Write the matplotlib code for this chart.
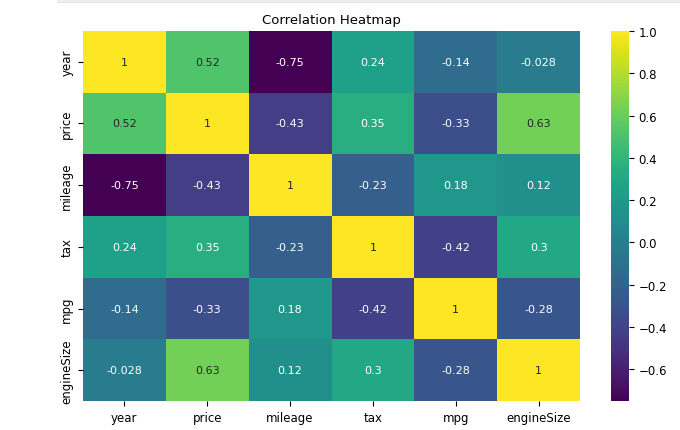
import matplotlib
matplotlib.use("Agg")
import matplotlib.pyplot as plt
import seaborn as sns
import pandas as pd
import numpy as np

labels = ["year", "price", "mileage", "tax", "mpg", "engineSize"]
year = [1, 0.52, -0.75, 0.24, -0.14, -0.028]
price = [0.52, 1, -0.43, 0.35, -0.33, 0.63]
mileage = [-0.75, -0.43, 1, -0.23, 0.18, 0.12]
tax = [0.24, 0.35, -0.23, 1, -0.42, 0.3]
mpg = [-0.14, -0.33, 0.18, -0.42, 1, -0.28]
engineSize = [-0.028, 0.63, 0.12, 0.3, -0.28, 1]

corr = pd.DataFrame([year, price, mileage, tax, mpg, engineSize],
                    index=labels, columns=labels)

fig = plt.figure(figsize=(6.8, 4.31), dpi=100)
ax = fig.add_axes([0.122, 0.067, 0.731, 0.859])
cax = fig.add_axes([0.8985, 0.067, 0.0265, 0.859])

sns.heatmap(corr, annot=True, cmap="viridis", ax=ax, cbar_ax=cax,
            annot_kws={"size": 8})
ax.set_title("Correlation Heatmap", fontsize=9.5)
ax.tick_params(labelsize=8.5)
cax.tick_params(labelsize=8.5)

# light strip at the top of the screenshot
fig.patches.append(plt.Rectangle((0.084, 0.993), 0.916, 0.007, transform=fig.transFigure,
                                 facecolor="#eeeeee", edgecolor="#dddddd", lw=0.5))

fig.savefig("out.png", dpi=100)
